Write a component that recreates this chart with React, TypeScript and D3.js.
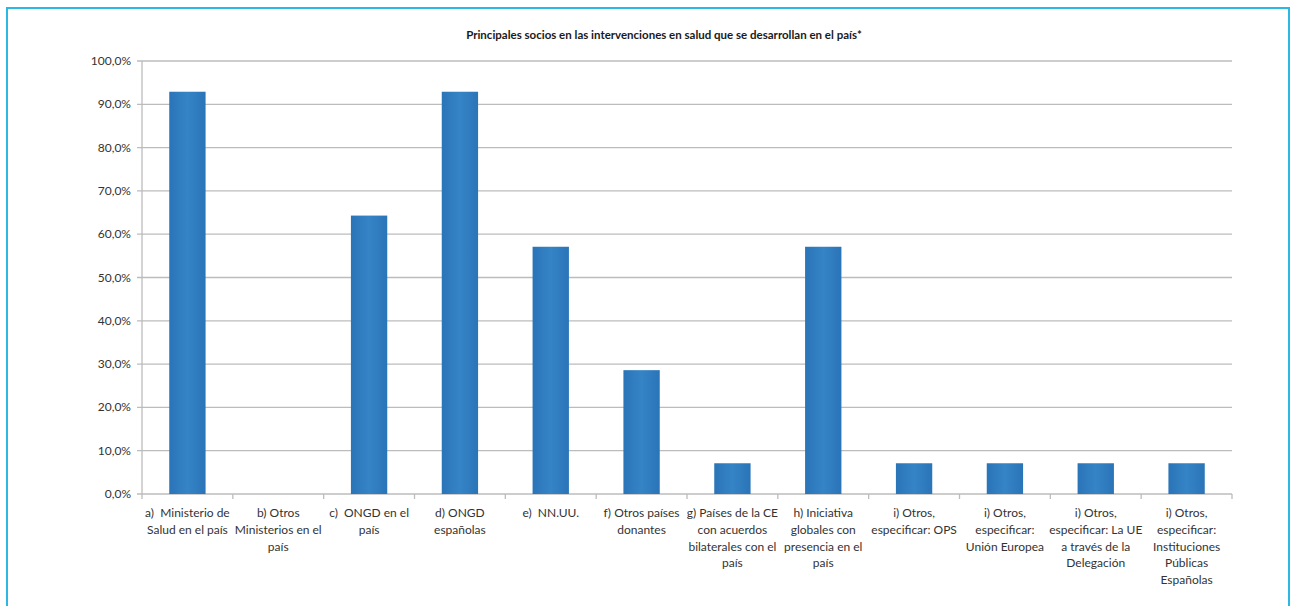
import React from "react";
import * as d3 from "d3";

// Categories (each entry is the multi-line axis label) and their shares in %
const categories: string[][] = [
  ["a)  Ministerio de", "Salud en el país"],
  ["b) Otros", "Ministerios en el", "país"],
  ["c)  ONGD en el", "país"],
  ["d) ONGD", "españolas"],
  ["e)  NN.UU."],
  ["f) Otros países", "donantes"],
  ["g) Países de la CE", "con acuerdos", "bilaterales con el", "país"],
  ["h) Iniciativa", "globales con", "presencia en el", "país"],
  ["i) Otros,", "especificar: OPS"],
  ["i) Otros,", "especificar:", "Unión Europea"],
  ["i) Otros,", "especificar: La UE", "a través de la", "Delegación"],
  ["i) Otros,", "especificar:", "Instituciones", "Públicas", "Españolas"],
];
const values: number[] = [92.9, 0, 64.3, 92.9, 57.1, 28.6, 7.1, 57.1, 7.1, 7.1, 7.1, 7.1];
const yTicks: number[] = [0, 10, 20, 30, 40, 50, 60, 70, 80, 90, 100];
const title = "Principales socios en las intervenciones en salud que se desarrollan  en el país*";

const W = 1292;
const H = 606;
const left = 142;
const right = 1232;
const top = 61;
const bottom = 494;
const font = "Lato, 'Open Sans', sans-serif";

export default function App() {
  const idx = categories.map((_, i) => String(i));
  const x = d3.scaleBand<string>().domain(idx).range([left, right]).paddingInner(0.6).paddingOuter(0.3);
  const xStep = d3.scaleBand<string>().domain(idx).range([left, right]).padding(0);
  const y = d3.scaleLinear().domain([0, 100]).range([bottom, top]);
  const fmt = (v: number) => v.toFixed(1).replace(".", ",") + "%";

  return (
    <svg width={W} height={H} style={{ position: "absolute", left: 0, top: 0, display: "block", background: "#fff" }}>
      <defs>
        <linearGradient id="barFill" x1="0" x2="1" y1="0" y2="0">
          <stop offset="0" stopColor="#2a74b8" />
          <stop offset="0.5" stopColor="#3584c6" />
          <stop offset="1" stopColor="#2a74b8" />
        </linearGradient>
      </defs>
      {/* page frame */}
      <rect x={7} y={8} width={1282} height={610} fill="#fff" stroke="#2bb8e2" strokeWidth={2} />

      {/* title */}
      <text x={664} y={39} textAnchor="middle" fontFamily={font} fontWeight={700} fontSize={11.5} fill="#1a1a1a">
        {title}
      </text>

      {/* gridlines and y labels */}
      {yTicks.map((t) => (
        <g key={t}>
          <line x1={left - 5} x2={right} y1={y(t)} y2={y(t)} stroke="#bcbcbc" strokeWidth={1.3} />
          <text x={131} y={y(t) + 4} textAnchor="end" fontFamily={font} fontSize={12} fill="#333">
            {fmt(t)}
          </text>
        </g>
      ))}
      {/* y axis */}
      <line x1={left} x2={left} y1={top} y2={bottom} stroke="#bcbcbc" strokeWidth={1.3} />

      {/* x category ticks */}
      {idx.concat(["end"]).map((k, i) => {
        const xx = i < idx.length ? (xStep(k) as number) : right;
        return <line key={k} x1={xx} x2={xx} y1={bottom} y2={bottom + 5} stroke="#bcbcbc" strokeWidth={1.3} />;
      })}

      {/* bars */}
      {values.map((v, i) =>
        v > 0 ? (
          <rect
            key={i}
            x={x(String(i))}
            y={y(v)}
            width={x.bandwidth()}
            height={y(0) - y(v)}
            fill="url(#barFill)"
          />
        ) : null
      )}

      {/* category labels */}
      {categories.map((lines, i) => {
        const cx = (xStep(String(i)) as number) + xStep.bandwidth() / 2;
        return (
          <text key={i} textAnchor="middle" fontFamily={font} fontSize={12} fill="#333">
            {lines.map((l, j) => (
              <tspan key={j} x={cx} y={517 + j * 16.8} style={{ whiteSpace: "pre" }}>
                {l}
              </tspan>
            ))}
          </text>
        );
      })}
    </svg>
  );
}
